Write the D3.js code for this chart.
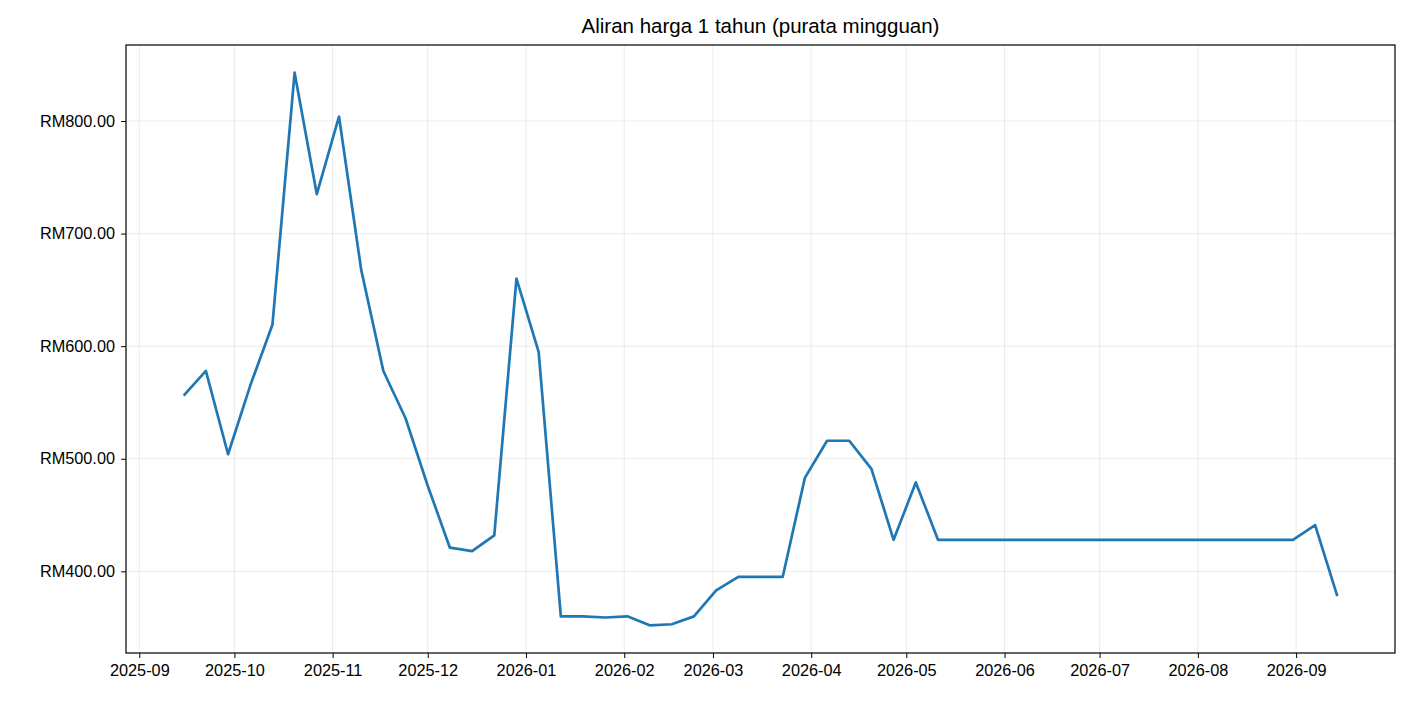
<!DOCTYPE html>
<html><head><meta charset="utf-8">
<script src="https://cdn.jsdelivr.net/npm/d3@7"></script>
<style>body{margin:0;background:#fff;font-family:"Liberation Sans",Arial,sans-serif;}</style>
</head><body><svg id="c" width="1410" height="704"></svg>
<script>
const startDate = "2025-09-15";
const weeklyValues = [556,578,504,565,619,843,735,804,668,578,536,476,421,418,432,660,595,360,360,359,360,352,353,360,383,395,395,395,483,516,516,491,428,479,
428,428,428,428,428,428,428,428,428,428,428,428,428,428,428,428,428,441,378];
const yTicks = [400,500,600,700,800];
const xTickMonths = ["2025-09","2025-10","2025-11","2025-12","2026-01","2026-02","2026-03","2026-04","2026-05","2026-06","2026-07","2026-08","2026-09"];
const title = "Aliran harga 1 tahun (purata mingguan)";

const parse = d3.utcParse("%Y-%m-%d");
const s0 = parse(startDate);
const data = weeklyValues.map((v,i)=>({d:d3.utcDay.offset(s0,i*7),v}));
const svg = d3.select("#c");
const L=126,R=1395,T=45,B=653;
const d0=data[0].d,d1=data[data.length-1].d,span=(d1-d0)*0.05;
const x=d3.scaleUtc().domain([new Date(+d0-span),new Date(+d1+span)]).range([L,R]);
const [mn,mx]=d3.extent(weeklyValues),pad=(mx-mn)*0.05;
const y=d3.scaleLinear().domain([mn-pad,mx+pad]).range([B,T]);
const xt=xTickMonths.map(m=>parse(m+"-01"));
const g=svg.append("g");
g.selectAll(".gx").data(xt).join("line").attr("x1",d=>x(d)).attr("x2",d=>x(d)).attr("y1",T).attr("y2",B).attr("stroke","#b0b0b0").attr("stroke-opacity",0.3).attr("stroke-width",0.8);
g.selectAll(".gy").data(yTicks).join("line").attr("y1",d=>y(d)).attr("y2",d=>y(d)).attr("x1",L).attr("x2",R).attr("stroke","#b0b0b0").attr("stroke-opacity",0.3).attr("stroke-width",0.8);
svg.append("path").datum(data).attr("fill","none").attr("stroke","#1f77b4").attr("stroke-width",2.7).attr("stroke-linejoin","round")
 .attr("d",d3.line().x(d=>x(d.d)).y(d=>y(d.v)));
const xa=svg.append("g").attr("transform",`translate(0,${B})`).call(d3.axisBottom(x).tickValues(xt).tickFormat(d3.utcFormat("%Y-%m")).tickSize(5).tickPadding(6));
const ya=svg.append("g").attr("transform",`translate(${L},0)`).call(d3.axisLeft(y).tickValues(yTicks).tickFormat(d=>"RM"+d3.format(".2f")(d)).tickSize(5).tickPadding(6));
[xa,ya].forEach(a=>{a.select(".domain").remove();a.selectAll("text").style("font-size","16.3px").style("font-family","Liberation Sans, Arial").attr("fill","#000");a.selectAll("line").attr("stroke","#000");});
svg.append("rect").attr("x",L).attr("y",T).attr("width",R-L).attr("height",B-T).attr("fill","none").attr("stroke","#000").attr("stroke-width",1.2);
svg.append("text").attr("x",(L+R)/2).attr("y",33).attr("text-anchor","middle").style("font-size","20.5px").style("font-family","Liberation Sans, Arial").text(title);
</script></body></html>
